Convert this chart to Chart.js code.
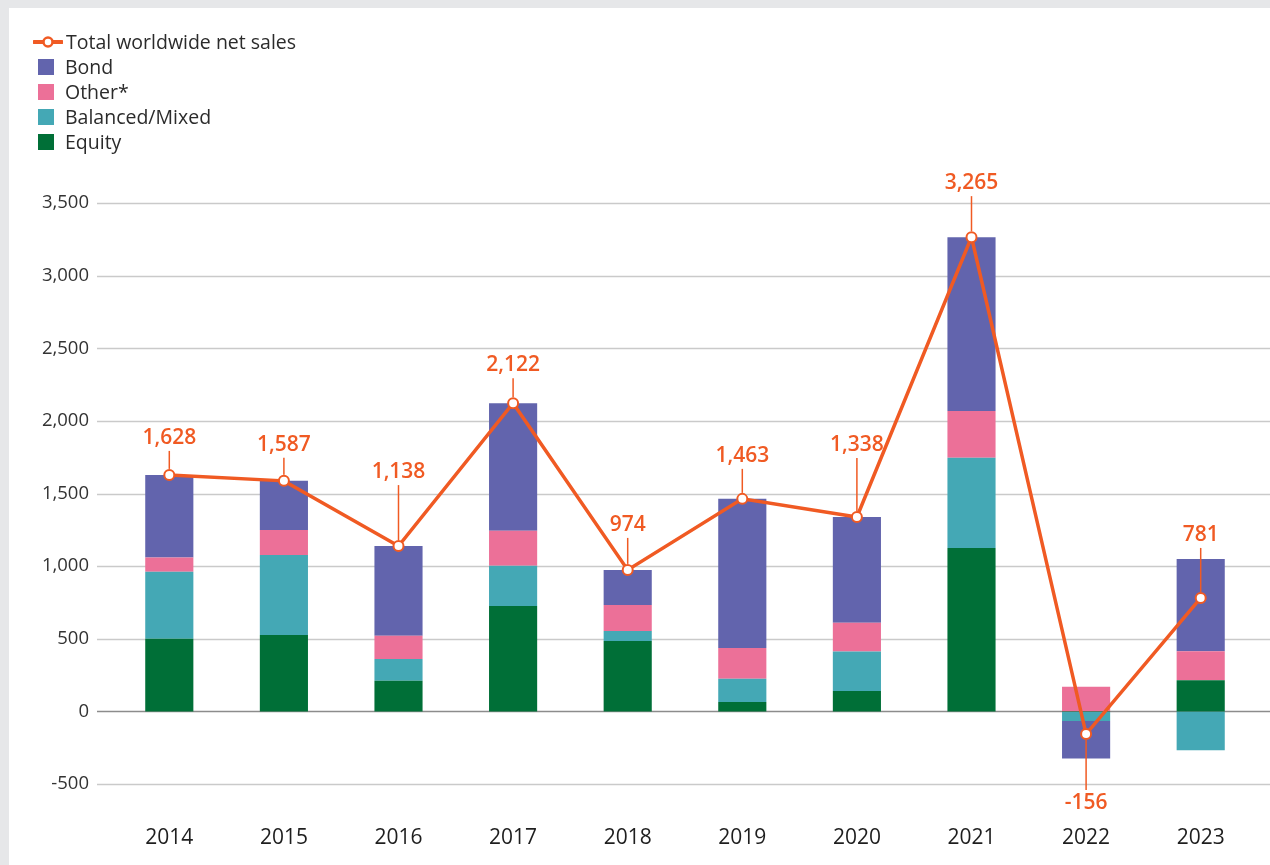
<!DOCTYPE html>
<html>
<head>
<meta charset="utf-8">
<script src="https://cdn.jsdelivr.net/npm/chart.js@4.4.1/dist/chart.umd.min.js"></script>
<style>
  html, body { margin: 0; padding: 0; background: #e6e7e9; width: 1270px; height: 865px; overflow: hidden; }
  #panel { position: absolute; left: 9px; top: 8px; width: 1261px; height: 857px; background: #fff; }
  #myChart { position: absolute; left: 0; top: 0; }
  #legend { position: absolute; left: 24px; top: 21px; font-family: "Open Sans", sans-serif; font-size: 19.5px; color: #2b2b2b; }
  #legend .item { height: 25px; display: flex; align-items: center; }
  #legend .sw { width: 16px; height: 16px; margin: 0 11px 0 5px; }
  #legend svg { margin-right: 3px; }
</style>
</head>
<body>
<div id="panel">
  <canvas id="myChart" width="1261" height="857"></canvas>
  <div id="legend"></div>
</div>
<script>
const years = ['2014', '2015', '2016', '2017', '2018', '2019', '2020', '2021', '2022', '2023'];
const equity = [500, 526, 210, 726, 485, 65, 141, 1125, -5, 215];
const balanced = [462, 551, 151, 276, 69, 159, 271, 621, -62, -268];
const other = [97, 172, 159, 241, 179, 213, 199, 322, 169, 199];
const bond = [569, 338, 618, 879, 241, 1026, 727, 1197, -258, 635];
const total = [1628, 1587, 1138, 2122, 974, 1463, 1338, 3265, -156, 781];

const orange = '#f05a23';
const colors = { bond: '#6264ad', other: '#ec7098', balanced: '#44a8b5', equity: '#006f37' };

// how far each value label sits from its point (px, negative = below)
const labelLift = [37, 36, 74, 38, 45, 43, 72, 54, -69, 63];

// legend (html, top left)
const legendItems = [
  { label: 'Total worldwide net sales', line: true },
  { label: 'Bond', color: colors.bond },
  { label: 'Other*', color: colors.other },
  { label: 'Balanced/Mixed', color: colors.balanced },
  { label: 'Equity', color: colors.equity },
];
const legendEl = document.getElementById('legend');
legendItems.forEach(it => {
  const row = document.createElement('div');
  row.className = 'item';
  if (it.line) {
    row.innerHTML = '<svg width="30" height="14"><line x1="1" y1="7" x2="29" y2="7" stroke="' + orange +
      '" stroke-width="4" stroke-linecap="round"/><circle cx="15" cy="7" r="4.5" fill="#fff" stroke="' + orange + '" stroke-width="2.5"/></svg>';
  } else {
    row.innerHTML = '<span class="sw" style="background:' + it.color + '"></span>';
  }
  const t = document.createElement('span');
  t.textContent = it.label;
  row.appendChild(t);
  legendEl.appendChild(row);
});

// gridlines drawn across the full panel width, under the bars
const gridPlugin = {
  id: 'gridPlugin',
  beforeDatasetsDraw(chart) {
    const { ctx } = chart;
    const y = chart.scales.y;
    ctx.save();
    y.ticks.forEach(t => {
      const py = Math.round(y.getPixelForValue(t.value)) + 0.5;
      ctx.strokeStyle = t.value === 0 ? '#8c8c8c' : '#cacaca';
      ctx.lineWidth = 1.5;
      ctx.beginPath();
      ctx.moveTo(88, py);
      ctx.lineTo(chart.width, py);
      ctx.stroke();
    });
    ctx.restore();
  }
};

// value labels with leader lines
const labelPlugin = {
  id: 'labelPlugin',
  afterDatasetsDraw(chart) {
    const { ctx } = chart;
    const meta = chart.getDatasetMeta(0);
    ctx.save();
    ctx.font = '600 21px "Open Sans", sans-serif';
    ctx.fillStyle = orange;
    ctx.strokeStyle = orange;
    ctx.lineWidth = 1.5;
    ctx.textAlign = 'center';
    ctx.textBaseline = 'middle';
    meta.data.forEach((pt, i) => {
      const lift = labelLift[i];
      const dir = lift > 0 ? -1 : 1;
      const ly = pt.y - lift;
      ctx.beginPath();
      ctx.moveTo(pt.x, ly - dir * 13);
      ctx.lineTo(pt.x, pt.y + dir * 6);
      ctx.stroke();
      ctx.fillText(total[i].toLocaleString('en-US'), pt.x, ly);
    });
    ctx.restore();
  }
};

const ctx = document.getElementById('myChart').getContext('2d');
const myChart = new Chart(ctx, {
  data: {
    labels: years,
    datasets: [
      {
        type: 'line', label: 'Total worldwide net sales', data: total, stack: 'line', order: 0,
        borderColor: orange, borderWidth: 3.5, pointRadius: 5, pointBorderWidth: 2,
        pointBackgroundColor: '#fff', pointBorderColor: orange, tension: 0,
      },
      { type: 'bar', label: 'Equity', data: equity, backgroundColor: colors.equity, stack: 'bars', order: 1 },
      { type: 'bar', label: 'Balanced/Mixed', data: balanced, backgroundColor: colors.balanced, stack: 'bars', order: 1 },
      { type: 'bar', label: 'Other*', data: other, backgroundColor: colors.other, stack: 'bars', order: 1 },
      { type: 'bar', label: 'Bond', data: bond, backgroundColor: colors.bond, stack: 'bars', order: 1 },
    ]
  },
  options: {
    responsive: false,
    devicePixelRatio: 1,
    animation: false,
    events: [],
    layout: { padding: { left: 0, right: 12, top: 195, bottom: 0 } },
    datasets: { bar: { barPercentage: 0.42, categoryPercentage: 1 } },
    plugins: { legend: { display: false }, tooltip: { enabled: false } },
    scales: {
      x: {
        stacked: true,
        grid: { display: false, drawTicks: false },
        border: { display: false },
        ticks: { color: '#1e1e1e', font: { family: 'Open Sans', size: 21 }, padding: 41 },
        afterFit(scale) { scale.height = 81; }
      },
      y: {
        stacked: true,
        min: -500, max: 3500,
        grid: { display: false, drawTicks: false },
        border: { display: false },
        ticks: {
          stepSize: 500, color: '#333', padding: 23,
          font: { family: 'Open Sans', size: 18.5 },
          callback: v => v.toLocaleString('en-US')
        },
        afterFit(scale) { scale.width = 103; }
      }
    }
  },
  plugins: [gridPlugin, labelPlugin]
});
</script>
</body>
</html>
